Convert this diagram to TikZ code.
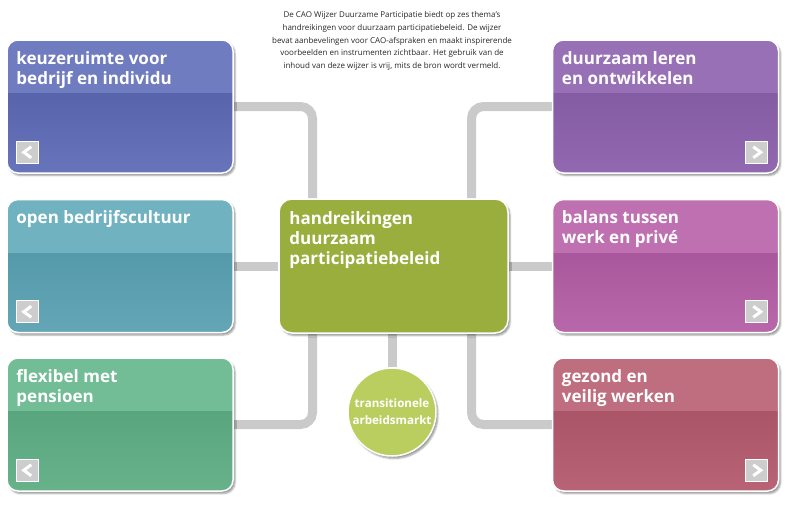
\documentclass[tikz,border=0pt]{standalone}
\usepackage{fontspec}
\setsansfont{Open Sans}
\usepackage{tikz}
\usetikzlibrary{positioning, calc, backgrounds, shadows.blur}
\definecolor{linkgray}{RGB}{202,202,202}
\definecolor{icongray}{RGB}{205,205,205}
\definecolor{keuzehead}{RGB}{112,124,192}
\definecolor{keuzetop}{RGB}{76,90,164}
\definecolor{keuzebot}{RGB}{104,116,186}
\definecolor{openhead}{RGB}{112,178,192}
\definecolor{opentop}{RGB}{74,146,164}
\definecolor{openbot}{RGB}{100,166,182}
\definecolor{flexhead}{RGB}{114,188,150}
\definecolor{flextop}{RGB}{78,158,118}
\definecolor{flexbot}{RGB}{104,178,138}
\definecolor{lerenhead}{RGB}{152,112,182}
\definecolor{lerentop}{RGB}{122,84,156}
\definecolor{lerenbot}{RGB}{146,104,176}
\definecolor{balanshead}{RGB}{190,112,176}
\definecolor{balanstop}{RGB}{160,76,148}
\definecolor{balansbot}{RGB}{184,104,170}
\definecolor{gezondhead}{RGB}{190,110,126}
\definecolor{gezondtop}{RGB}{160,76,94}
\definecolor{gezondbot}{RGB}{184,100,118}
\definecolor{hubgreen}{RGB}{154,174,62}
\definecolor{transgreen}{RGB}{186,206,96}
\begin{document}
\begin{tikzpicture}[x=1pt, y=-1pt,
  every node/.style={font=\sffamily},
  tbox/.style n args={3}{rounded corners=11pt, draw=white, line width=1.5pt,
    minimum width=226pt, minimum height=133pt, inner sep=0pt,
    blur shadow={shadow xshift=2pt, shadow yshift=-2.5pt, shadow opacity=40},
    path picture={
      \fill[sharp corners, top color=#2, bottom color=#3]
        (path picture bounding box.south west) rectangle (path picture bounding box.north east);
      \fill[sharp corners, #1]
        (path picture bounding box.north west) rectangle ([yshift=-53pt]path picture bounding box.north east);
    }},
  hubbox/.style={rounded corners=13pt, draw=white, line width=1.5pt, fill=hubgreen,
    minimum width=229pt, minimum height=134pt, inner sep=0pt,
    blur shadow={shadow xshift=2pt, shadow yshift=-2.5pt, shadow opacity=40}},
  circ/.style={circle, draw=white, line width=1.5pt, fill=transgreen,
    minimum size=88pt, inner sep=0pt, text=white, align=center,
    font=\sffamily\bfseries\fontsize{11.6}{17}\selectfont,
    blur shadow={shadow xshift=2pt, shadow yshift=-2.5pt, shadow opacity=40}},
  ttext/.style={text=white, align=left, inner sep=0pt,
    font=\sffamily\bfseries\fontsize{17}{20}\selectfont},
  intro/.style={align=center, text=black!85, inner sep=0pt,
    font=\sffamily\fontsize{8}{12.6}\selectfont},
  icon/.style={minimum size=22pt, inner sep=0pt, fill=icongray, draw=white, line width=1pt},
  iconl/.style={icon, path picture={
    \draw[white, line width=3pt, sharp corners]
      ([shift={(3.5pt,5.5pt)}]path picture bounding box.center) --
      ([shift={(-4pt,0pt)}]path picture bounding box.center) --
      ([shift={(3.5pt,-5.5pt)}]path picture bounding box.center);}},
  iconr/.style={icon, path picture={
    \draw[white, line width=3pt, sharp corners]
      ([shift={(-3.5pt,5.5pt)}]path picture bounding box.center) --
      ([shift={(4pt,0pt)}]path picture bounding box.center) --
      ([shift={(-3.5pt,-5.5pt)}]path picture bounding box.center);}},
  link/.style={draw=linkgray, line width=9pt, rounded corners=12pt}
]
  \useasboundingbox (0,0) rectangle (791,512);

  \node[intro] (intro) at (392,41) {De CAO Wijzer Duurzame Participatie biedt op zes thema's\\
    handreikingen voor duurzaam participatiebeleid. De wijzer\\
    bevat aanbevelingen voor CAO-afspraken en maakt inspirerende\\
    voorbeelden en instrumenten zichtbaar. Het gebruik van de\\
    inhoud van deze wijzer is vrij, mits de bron wordt vermeld.};

  \node[tbox={keuzehead}{keuzetop}{keuzebot}]    (keuze)  at (120,106.5) {};
  \node[tbox={openhead}{opentop}{openbot}]       (open)   at (120,266)   {};
  \node[tbox={flexhead}{flextop}{flexbot}]       (flex)   at (120,424.5) {};
  \node[tbox={lerenhead}{lerentop}{lerenbot}]    (leren)  at (665.5,106.5) {};
  \node[tbox={balanshead}{balanstop}{balansbot}] (balans) at (665.5,266)   {};
  \node[tbox={gezondhead}{gezondtop}{gezondbot}] (gezond) at (665.5,424.5) {};
  \node[hubbox] (hub) at (393.5,266) {};
  \node[circ] (trans) at (392,412) {transitionele\\arbeidsmarkt};

  \node[ttext, below right=12pt and 10pt of keuze.north west]  (keuzetxt)  {keuzeruimte voor\\bedrijf en individu};
  \node[ttext, below right=12pt and 10pt of open.north west]   (opentxt)   {open bedrijfscultuur};
  \node[ttext, below right=12pt and 10pt of flex.north west]   (flextxt)   {flexibel met\\pensioen};
  \node[ttext, below right=12pt and 10pt of leren.north west]  (lerentxt)  {duurzaam leren\\en ontwikkelen};
  \node[ttext, below right=12pt and 10pt of balans.north west] (balanstxt) {balans tussen\\werk en privé};
  \node[ttext, below right=12pt and 10pt of gezond.north west] (gezondtxt) {gezond en\\veilig werken};
  \node[ttext, below right=13pt and 11pt of hub.north west]    (hubtxt)    {handreikingen\\duurzaam\\participatiebeleid};

  \node[iconl, above right=10pt and 10pt of keuze.south west] (keuzeicon) {};
  \node[iconl, above right=10pt and 10pt of open.south west]  (openicon)  {};
  \node[iconl, above right=10pt and 10pt of flex.south west]  (flexicon)  {};
  \node[iconr, above left=10pt and 11pt of leren.south east]  (lerenicon) {};
  \node[iconr, above left=10pt and 11pt of balans.south east] (balansicon){};
  \node[iconr, above left=10pt and 11pt of gezond.south east] (gezondicon){};

  \begin{scope}[on background layer]
    \draw[link] (keuze.east) -| ([xshift=-81pt]hub.north);
    \draw[link] (open.east) -- (hub.west);
    \draw[link] (flex.east) -| ([xshift=-81pt]hub.south);
    \draw[link] (leren.west) -| ([xshift=78pt]hub.north);
    \draw[link] (balans.west) -- (hub.east);
    \draw[link] (gezond.west) -| ([xshift=78pt]hub.south);
    \draw[link] (hub.south -| trans.north) -- (trans.north);
  \end{scope}
\end{tikzpicture}
\end{document}
